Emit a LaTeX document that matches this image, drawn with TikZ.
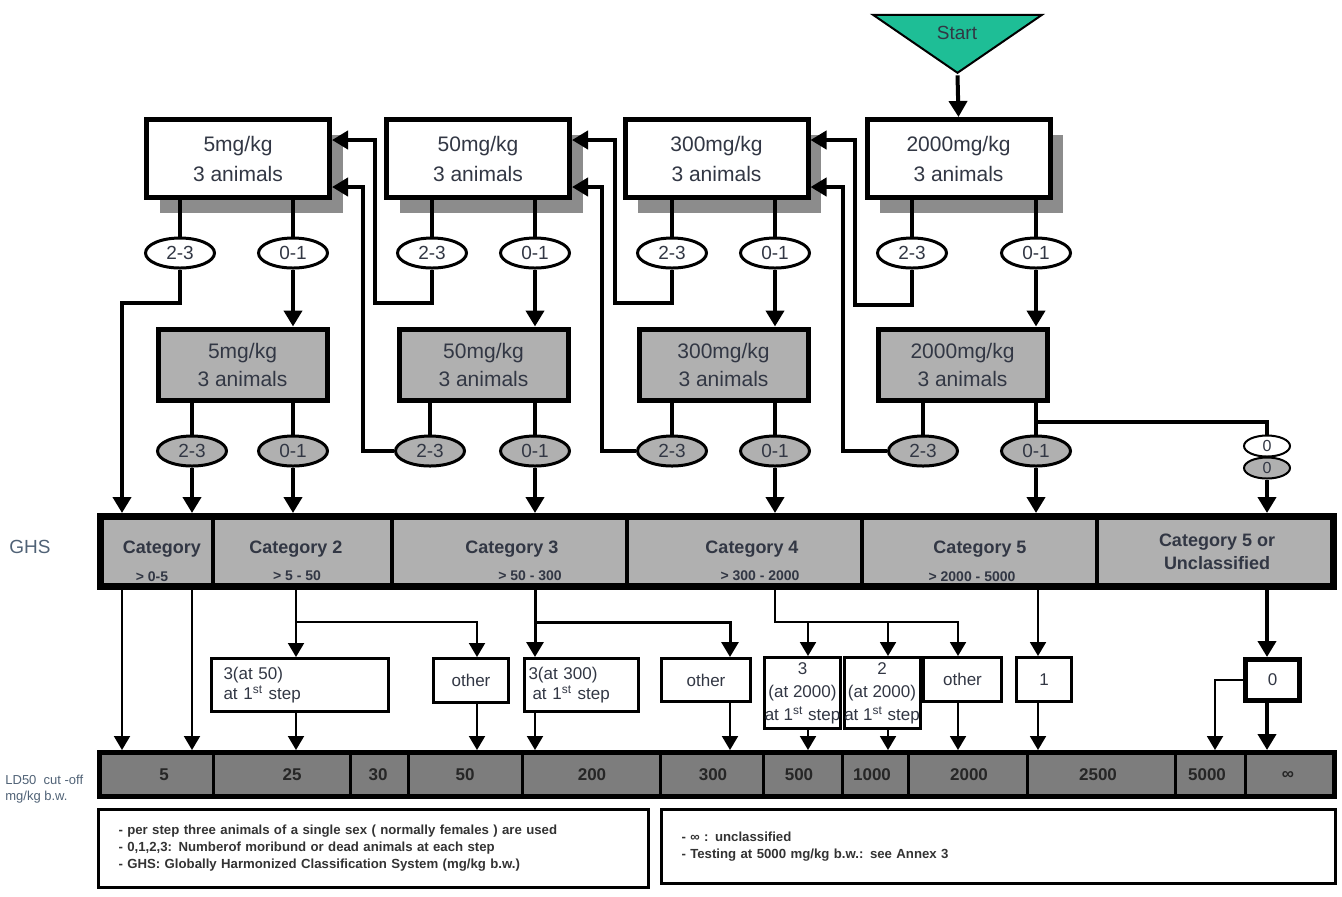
\documentclass[tikz,border=0pt]{standalone}
\usepackage{fontspec}
\setmainfont{Liberation Sans}
\usetikzlibrary{arrows.meta,shapes.geometric,shadows}
\definecolor{startgreen}{RGB}{30,190,150}
\definecolor{boxgrey}{RGB}{176,176,176}
\definecolor{cutgrey}{RGB}{125,125,125}
\definecolor{shadowgrey}{RGB}{140,140,140}
\definecolor{inkgrey}{RGB}{50,55,68}
\definecolor{sidegrey}{RGB}{80,98,118}
\tikzset{
    start-tri/.style = {draw, fill=startgreen, line width=1pt, isosceles triangle, isosceles triangle stretches, shape border rotate=270, minimum width=84.5pt, minimum height=29pt, inner sep=0pt},
    dose-box/.style = {draw, line width=2.5pt, fill=white, rectangle, minimum width=91.5pt, minimum height=39pt, inner sep=0pt, align=center, text=inkgrey, font=\fontsize{10.5}{15}\selectfont, general shadow={fill=shadowgrey, shadow xshift=6.5pt, shadow yshift=-7.5pt}},
    dose-box-grey/.style = {draw, line width=2.5pt, fill=boxgrey, rectangle, minimum width=84.5pt, minimum height=35.5pt, inner sep=0pt, align=center, text=inkgrey, font=\fontsize{10.5}{14}\selectfont},
    count-oval/.style = {draw, line width=1.5pt, fill=white, ellipse, minimum width=34.5pt, minimum height=15pt, inner sep=0pt, text=inkgrey, font=\fontsize{9.5}{10}\selectfont},
    count-oval-grey/.style = {count-oval, fill=boxgrey},
    zero-oval/.style = {count-oval, line width=1pt, minimum width=23pt, minimum height=10.5pt, font=\fontsize{8}{9}\selectfont},
    result-box/.style = {draw, line width=1.5pt, fill=white, rectangle, inner sep=0pt, align=center, text=inkgrey, font=\fontsize{8.5}{10}\selectfont},
    bar-cell/.style = {draw, line width=3.5pt, fill=boxgrey, rectangle, inner sep=0pt, minimum width=616.5pt, minimum height=35pt},
    cut-bar/.style = {draw, line width=2.5pt, fill=cutgrey, rectangle, inner sep=0pt, minimum width=617.5pt, minimum height=22pt},
    cat-text/.style = {text=inkgrey, font=\bfseries\fontsize{9}{11.5}\selectfont, inner sep=0pt},
    range-text/.style = {text=inkgrey, font=\bfseries\fontsize{7}{8}\selectfont, inner sep=0pt},
    cut-text/.style = {text=black!85, font=\bfseries\fontsize{8.5}{10}\selectfont, inner sep=0pt},
    note-box/.style = {draw, line width=1.5pt, rectangle, inner xsep=10pt, inner ysep=0pt, align=left, text=black!80, font=\bfseries\fontsize{6.6}{8.5}\selectfont},
    side-text/.style = {text=sidegrey, inner sep=0pt},
    flow-line/.style = {line width=2pt},
    flow-arrow/.style = {flow-line, -{Triangle[length=8pt,width=9pt]}},
    thin-line/.style = {line width=1pt},
    thin-arrow/.style = {thin-line, -{Triangle[length=7pt,width=8pt]}},
    mid-arrow/.style = {line width=1.5pt, -{Triangle[length=7.5pt,width=8.5pt]}},
}
\begin{document}
\begin{tikzpicture}[x=0.5pt,y=-0.5pt]
\useasboundingbox (0,0) rectangle (1342,896);
% start
\node[start-tri] (start) at (957.5,41) {};
\node[text=inkgrey, font=\fontsize{9.5}{11}\selectfont] (start-label) at (957,33) {Start};
% first round, white boxes
\node[dose-box] (t5) at (238,158.5) {5mg/kg\\3 animals};
\node[dose-box] (t50) at (478,158.5) {50mg/kg\\3 animals};
\node[dose-box] (t300) at (716.5,158.5) {300mg/kg\\3 animals};
\node[dose-box] (t2000) at (958.5,158.5) {2000mg/kg\\3 animals};
\draw[flow-arrow] (start.apex) -- (t2000.north);
% second round, grey boxes
\node[dose-box-grey] (g5) at (242.5,364.5) {5mg/kg\\3 animals};
\node[dose-box-grey] (g50) at (483.5,364.5) {50mg/kg\\3 animals};
\node[dose-box-grey] (g300) at (723.5,364.5) {300mg/kg\\3 animals};
\node[dose-box-grey] (g2000) at (962.5,364.5) {2000mg/kg\\3 animals};
% outcomes
\node[count-oval] (u5a) at (180,253) {2-3};
\node[count-oval] (u5b) at (293,253) {0-1};
\node[count-oval] (u50a) at (432,253) {2-3};
\node[count-oval] (u50b) at (535,253) {0-1};
\node[count-oval] (u300a) at (672,253) {2-3};
\node[count-oval] (u300b) at (775,253) {0-1};
\node[count-oval] (u2000a) at (912,253) {2-3};
\node[count-oval] (u2000b) at (1036,253) {0-1};
\node[count-oval-grey] (l5a) at (192,451) {2-3};
\node[count-oval-grey] (l5b) at (293,451) {0-1};
\node[count-oval-grey] (l50a) at (430,451) {2-3};
\node[count-oval-grey] (l50b) at (535,451) {0-1};
\node[count-oval-grey] (l300a) at (672,451) {2-3};
\node[count-oval-grey] (l300b) at (775,451) {0-1};
\node[count-oval-grey] (l2000a) at (923,451) {2-3};
\node[count-oval-grey] (l2000b) at (1036,451) {0-1};
\node[zero-oval] (z0w) at (1267,446) {0};
\node[zero-oval, fill=boxgrey] (z0g) at (1267,468) {0};
\foreach \dose in {5,50,300,2000} {
    \draw[flow-line] (t\dose.south -| u\dose a) -- (u\dose a.north);
    \draw[flow-line] (t\dose.south -| u\dose b) -- (u\dose b.north);
    \draw[flow-arrow] (u\dose b.south) -- (u\dose b |- g\dose.north);
    \draw[flow-line] (g\dose.south -| l\dose a) -- (l\dose a.north);
    \draw[flow-line] (g\dose.south -| l\dose b) -- (l\dose b.north);
}
% GHS bar
\node[bar-cell] (ghs) at (717,551.5) {};
\foreach \xd in {213,392,627,862,1097}
    \draw[line width=2pt] (\xd,0 |- ghs.north) -- (\xd,0 |- ghs.south);
\node[cat-text] (cat1) at (162,549) {Category};
\node[range-text] (range1) at (152,577) {> 0-5};
\node[cat-text] (cat2) at (296,549) {Category 2};
\node[range-text] (range2) at (297,576) {> 5 - 50};
\node[cat-text] (cat3) at (512,549) {Category 3};
\node[range-text] (range3) at (530,576) {> 50 - 300};
\node[cat-text] (cat4) at (752,549) {Category 4};
\node[range-text] (range4) at (760,576) {> 300 - 2000};
\node[cat-text] (cat5) at (980,549) {Category 5};
\node[range-text] (range5) at (972,577) {> 2000 - 5000};
\node[cat-text, align=center] (cat6) at (1217,552) {Category 5 or\\Unclassified};
\node[side-text, font=\fontsize{9.5}{11}\selectfont] (ghs-label) at (30,547) {GHS};
% feedback to lower doses
\draw[flow-arrow] (u50a.south) |- (375,303) |- (t5.east |- 0,140);
\draw[flow-arrow] (l50a.west) -| (363,187) -- (t5.east |- 0,187);
\draw[flow-arrow] (u300a.south) |- (615,303) |- (t50.east |- 0,140);
\draw[flow-arrow] (l300a.west) -| (602,187) -- (t50.east |- 0,187);
\draw[flow-arrow] (u2000a.south) |- (855,305) |- (t300.east |- 0,140);
\draw[flow-arrow] (l2000a.west) -| (843,187) -- (t300.east |- 0,187);
\draw[flow-arrow] (u5a.south) |- (122,303) -- (122,303 |- ghs.north);
% into GHS
\draw[flow-arrow] (l5a.south) -- (l5a |- ghs.north);
\draw[flow-arrow] (l5b.south) -- (l5b |- ghs.north);
\draw[flow-arrow] (l50b.south) -- (l50b |- ghs.north);
\draw[flow-arrow] (l300b.south) -- (l300b |- ghs.north);
\draw[flow-arrow] (l2000b.south) -- (l2000b |- ghs.north);
\coordinate (fork) at (l2000b |- 0,422);
\draw[flow-line] (fork) -| (z0w.north);
\draw[flow-arrow] (z0g.south) -- (z0g |- ghs.north);
% results
\node[result-box, minimum width=88.5pt, minimum height=26.5pt, text width=76.5pt, inner xsep=6pt, align=left] (res50) at (300,685) {3(at 50)\\at 1\textsuperscript{st} step};
\node[result-box, minimum width=37.5pt, minimum height=22pt] (oth1) at (471,680.5) {other};
\node[result-box, minimum width=57pt, minimum height=26.5pt, text width=53pt, inner xsep=2pt, align=left] (res300) at (581.5,685) {3(at 300)\\\hspace{2pt}at 1\textsuperscript{st} step};
\node[result-box, minimum width=44.5pt, minimum height=21.5pt] (oth2) at (706,680) {other};
\node[result-box, minimum width=38pt, minimum height=35.5pt, font=\fontsize{8.5}{11.5}\selectfont] (res2000a) at (802.5,693) {3\\(at 2000)\\at 1\textsuperscript{st} step};
\node[result-box, minimum width=38pt, minimum height=35.5pt, font=\fontsize{8.5}{11.5}\selectfont] (res2000b) at (882,693) {2\\(at 2000)\\at 1\textsuperscript{st} step};
\node[result-box, minimum width=39pt, minimum height=22pt] (oth3) at (962.5,679.5) {other};
\node[result-box, minimum width=27.5pt, minimum height=22pt] (one) at (1044,679.5) {1};
\node[result-box, line width=2.5pt, minimum width=27pt, minimum height=20.5pt] (zero) at (1272.5,680) {0};
% LD50 bar
\node[cut-bar] (ld50) at (717,774.5) {};
\foreach \xd in {213,350,408,522,660,763,842,908,1027,1175,1245}
    \draw[line width=1.5pt] (\xd,0 |- ld50.north) -- (\xd,0 |- ld50.south);
\node[cut-text] (cut1) at (164,775) {5};
\node[cut-text] (cut2) at (292,775) {25};
\node[cut-text] (cut3) at (378,775) {30};
\node[cut-text] (cut4) at (465,775) {50};
\node[cut-text] (cut5) at (592,775) {200};
\node[cut-text] (cut6) at (713,775) {300};
\node[cut-text] (cut7) at (799,775) {500};
\node[cut-text] (cut8) at (872,775) {1000};
\node[cut-text] (cut9) at (969,775) {2000};
\node[cut-text] (cut10) at (1098,775) {2500};
\node[cut-text] (cut11) at (1207,775) {5000};
\node[cut-text] (cut12) at (1288,775) {∞};
\node[side-text, anchor=west, align=left, font=\fontsize{6.5}{8}\selectfont] (ld50-label) at (5,789) {LD50\ \ cut -off\\mg/kg b.w.};
% GHS to LD50
\draw[thin-arrow] (122,0 |- ghs.south) -- (122,0 |- ld50.north);
\draw[thin-arrow] (l5a |- ghs.south) -- (l5a |- ld50.north);
\coordinate (split2) at (296,622);
\draw[thin-arrow] (296,0 |- ghs.south) -- (296,0 |- res50.north);
\draw[thin-arrow] (split2) -| (477,0 |- oth1.north);
\draw[thin-arrow] (296,0 |- res50.south) -- (296,0 |- ld50.north);
\draw[thin-arrow] (477,0 |- oth1.south) -- (477,0 |- ld50.north);
\coordinate (split3) at (535,622);
\draw[mid-arrow] (535,0 |- ghs.south) -- (535,0 |- res300.north);
\draw[mid-arrow] (split3) -| (730,0 |- oth2.north);
\draw[thin-arrow] (535,0 |- res300.south) -- (535,0 |- ld50.north);
\draw[thin-arrow] (730,0 |- oth2.south) -- (730,0 |- ld50.north);
\coordinate (split4) at (775,622);
\draw[thin-arrow] (775,0 |- ghs.south) -- (split4) -| (958,0 |- oth3.north);
\draw[thin-arrow] (split4 -| 808,0) -- (808,0 |- res2000a.north);
\draw[thin-arrow] (split4 -| 888,0) -- (888,0 |- res2000b.north);
\draw[thin-arrow] (808,0 |- res2000a.south) -- (808,0 |- ld50.north);
\draw[thin-arrow] (888,0 |- res2000b.south) -- (888,0 |- ld50.north);
\draw[thin-arrow] (958,0 |- oth3.south) -- (958,0 |- ld50.north);
\draw[thin-arrow] (1038,0 |- ghs.south) -- (1038,0 |- one.north);
\draw[thin-arrow] (1038,0 |- one.south) -- (1038,0 |- ld50.north);
\draw[flow-arrow] (1267,0 |- ghs.south) -- (1267,0 |- zero.north);
\draw[flow-arrow] (1267,0 |- zero.south) -- (1267,0 |- ld50.north);
\draw[thin-arrow] (zero.west) -| (1215,0 |- ld50.north);
% notes
\node[note-box, minimum width=275pt, minimum height=39pt, text width=255pt] (note-left) at (373.5,848.5) {- per step three animals of a single sex ( normally females ) are used\\- 0,1,2,3: Numberof moribund or dead animals at each step\\- GHS: Globally Harmonized Classification System (mg/kg b.w.)};
\node[note-box, minimum width=337pt, minimum height=37pt, text width=317pt] (note-right) at (998.5,846.5) {- ∞ : unclassified\\- Testing at 5000 mg/kg b.w.: see Annex 3};
\end{tikzpicture}
\end{document}
